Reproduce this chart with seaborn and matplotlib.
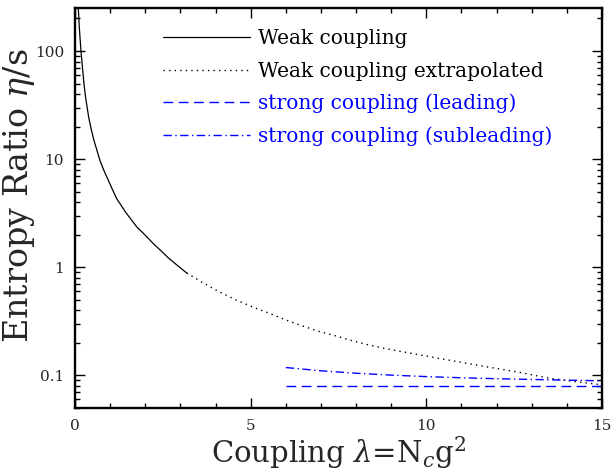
import numpy as np
import pandas as pd
import matplotlib
matplotlib.use("Agg")
import matplotlib.pyplot as plt
import seaborn as sns
from matplotlib.ticker import LogLocator, MultipleLocator, FixedLocator, FixedFormatter, NullFormatter

# ---- data ----
weak_lambda = [0.08, 0.094, 0.12, 0.17, 0.21, 0.25, 0.30, 0.39, 0.46, 0.54, 0.62, 0.71, 0.82,
               0.95, 1.07, 1.19, 1.45, 1.76, 2.0, 2.23, 2.45, 2.66, 2.9, 3.18]
weak_ratio = [330.0, 250.0, 170.0, 100.0, 72.0, 52.0, 37.5, 24.4, 19.0, 14.9, 12.2, 9.72, 7.9,
              6.36, 5.2, 4.3, 3.2, 2.36, 1.98, 1.655, 1.42, 1.22, 1.05, 0.886]

extrap_lambda = [3.18, 3.65, 4.10, 4.60, 5.05, 5.55, 6.0, 6.50, 6.95, 7.45, 7.9, 8.40, 8.85, 9.35,
                 10.1, 10.67, 11.6, 12.57, 13.52, 14.2, 15.0]
extrap_ratio = [0.886, 0.716, 0.595, 0.496, 0.43, 0.374, 0.326, 0.285, 0.255, 0.231, 0.209, 0.190,
                0.177, 0.165, 0.149, 0.138, 0.122, 0.108, 0.094, 0.088, 0.082]

strong_lambda = [6, 7, 8, 9, 10, 11, 12, 13, 14, 15]
lead_ratio = [0.0796, 0.0796, 0.0796, 0.0796, 0.0796, 0.0796, 0.0796, 0.0796, 0.0796, 0.0796]
sub_ratio = [0.1184, 0.1104, 0.1048, 0.1007, 0.0976, 0.0952, 0.0933, 0.0918, 0.0905, 0.0892]

labels = ["Weak coupling", "Weak coupling extrapolated",
          "strong coupling (leading)", "strong coupling (subleading)"]
xticks = [0, 5, 10, 15]
yticks = [0.1, 1, 10, 100]
ytick_labels = ["0.1", "1", "10", "100"]

sns.set_style("ticks")
plt.rcParams['font.family'] = ['DejaVu Serif']
plt.rcParams['mathtext.fontset'] = 'dejavuserif'

fig = plt.figure(figsize=(6.11, 4.72), dpi=100)
ax = fig.add_axes([75/611, 1-408/472, (602-75)/611, (408-8)/472])

blue = '#0000ff'
sns.lineplot(x=weak_lambda, y=weak_ratio, ax=ax, color='black', lw=0.9,
             linestyle='-', label=labels[0], sort=False, estimator=None)
sns.lineplot(x=extrap_lambda, y=extrap_ratio, ax=ax, color='black', lw=1.0,
             linestyle=(0, (1, 3)), label=labels[1], sort=False, estimator=None)
sns.lineplot(x=strong_lambda, y=lead_ratio, ax=ax, color=blue, lw=1.0,
             linestyle=(0, (7, 4)), label=labels[2], sort=False, estimator=None)
sns.lineplot(x=strong_lambda, y=sub_ratio, ax=ax, color=blue, lw=1.0,
             linestyle=(0, (6, 2.5, 1, 2.5)), label=labels[3], sort=False, estimator=None)

ax.set_yscale('log')
ax.set_xlim(0, 15)
ax.set_ylim(0.05, 250)

ax.xaxis.set_major_locator(FixedLocator(xticks))
ax.xaxis.set_minor_locator(MultipleLocator(1))
ax.yaxis.set_major_locator(FixedLocator(yticks))
ax.yaxis.set_major_formatter(FixedFormatter(ytick_labels))
ax.yaxis.set_minor_locator(LogLocator(base=10, subs=np.arange(2, 10)))
ax.yaxis.set_minor_formatter(NullFormatter())

ax.tick_params(which='both', direction='in', top=True, right=True, width=1.0, color='black')
ax.tick_params(which='major', length=7, labelsize=11, pad=8)
ax.tick_params(which='minor', length=3.6)
for s in ax.spines.values():
    s.set_linewidth(1.7)
    s.set_color('black')

ax.set_xlabel(r'Coupling $\lambda$=N$_c$g$^2$', fontsize=21, labelpad=1)
ax.set_ylabel(r'Entropy Ratio $\eta$/s', fontsize=24)
ax.yaxis.set_label_coords(-0.073, 0.53)

leg = ax.legend(loc='upper left', bbox_to_anchor=((163-75)/527, (408-29.5)/400),
                frameon=False, fontsize=14.5, handlelength=4.3, handletextpad=0.4,
                labelspacing=0.65, borderpad=0, borderaxespad=0,
                labelcolor=['black', 'black', blue, blue])

fig.savefig('out.png', dpi=100)
